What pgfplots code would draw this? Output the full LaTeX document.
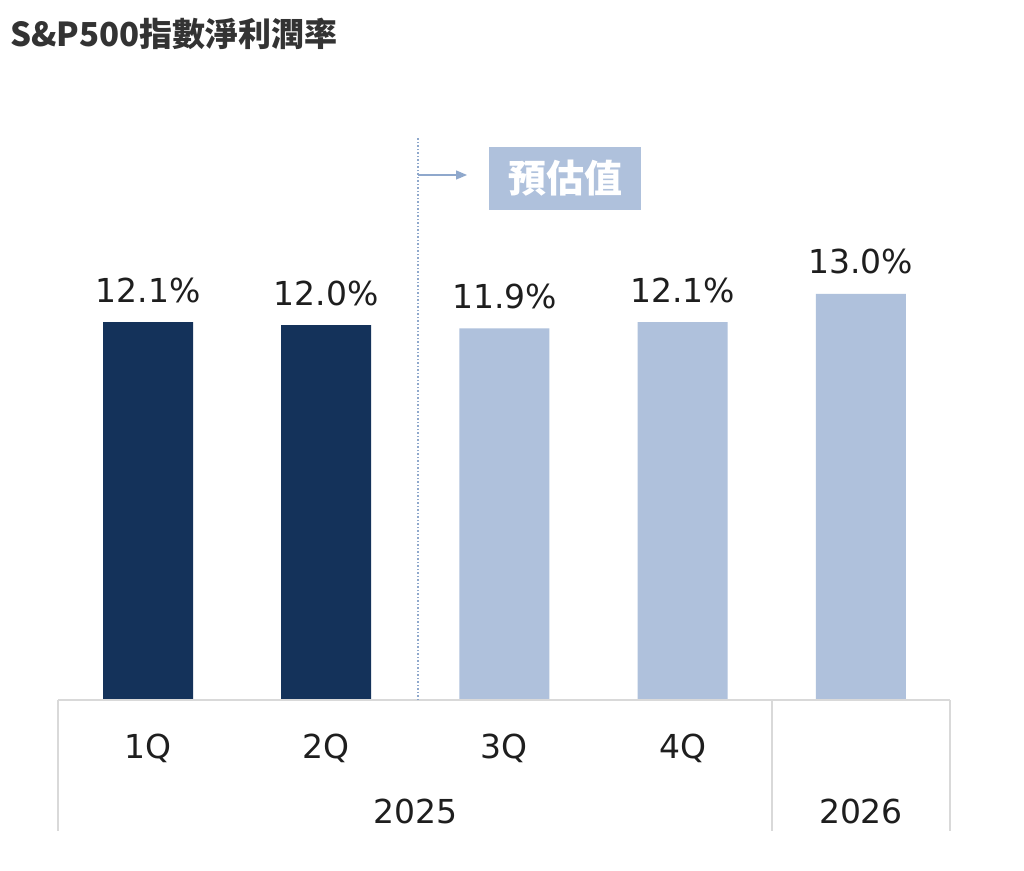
\documentclass[border=0pt]{standalone}
\usepackage{pgfplots}
\pgfplotsset{compat=1.18}
\usepackage{fontspec}
\setmainfont{DejaVu Sans}
\newfontfamily\cjk{Noto Sans CJK TC}
\usetikzlibrary{arrows.meta}
\definecolor{navy}{HTML}{14325A}
\definecolor{lightbar}{HTML}{AFC1DC}
\definecolor{guide}{HTML}{8FA8CC}
\definecolor{gridgray}{HTML}{D9D9D9}
\definecolor{titlegray}{HTML}{333333}
\definecolor{labelblack}{HTML}{1E1E1E}
\begin{document}
\begin{tikzpicture}
  \useasboundingbox (0pt,0pt) rectangle (1024pt,870pt);
  \fill[white] (0pt,0pt) rectangle (1024pt,870pt);
  % title
  \node[anchor=base west, inner sep=0pt, text=titlegray] at (10pt,823pt)
    {\cjk\bfseries\fontsize{33}{37}\selectfont S\&P500指數淨利潤率};
  \begin{axis}[
    at={(58.9pt,170pt)}, anchor=south west,
    scale only axis, width=891.1pt, height=562.3pt,
    xmin=-0.5, xmax=4.5, ymin=0, ymax=18,
    axis line style={draw=none},
    major tick length=0pt,
    ytick=\empty,
    xtick={0,1,2,3,4},
    xticklabels={1Q,2Q,3Q,4Q,},
    xticklabel style={anchor=base, yshift=-58pt, font=\fontsize{33}{36}\selectfont, text=labelblack},
    ybar, bar width=90pt, bar shift=0pt,
    clip=false,
    nodes near coords={\pgfmathprintnumber[fixed,fixed zerofill,precision=1]{\pgfplotspointmeta}\%},
    nodes near coords style={anchor=base, yshift=20pt, font=\fontsize{33}{36}\selectfont, text=labelblack},
    /pgf/number format/assume math mode=true,
  ]
    \addplot[fill=navy, draw=none] coordinates {(0,12.1) (1,12.0)};
    \addplot[fill=lightbar, draw=none] coordinates {(2,11.9) (3,12.1) (4,13.0)};
  \end{axis}
  % table lines
  \draw[gridgray, line width=1.2pt] (58pt,170pt) -- (950pt,170pt);
  \draw[gridgray, line width=1.2pt] (58pt,170pt) -- (58pt,39pt);
  \draw[gridgray, line width=1.2pt] (772pt,170pt) -- (772pt,39pt);
  \draw[gridgray, line width=1.2pt] (950pt,170pt) -- (950pt,39pt);
  % year labels
  \node[anchor=base, inner sep=0pt, text=labelblack, font=\fontsize{33}{36}\selectfont] at (415.5pt,47pt) {2025};
  \node[anchor=base, inner sep=0pt, text=labelblack, font=\fontsize{33}{36}\selectfont] at (861pt,47pt) {2026};
  % forecast marker
  \draw[guide, line width=1.5pt, dash pattern=on 1.5pt off 2pt] (418pt,170pt) -- (418pt,733pt);
  \draw[guide, line width=1.3pt, -{Triangle[length=11pt,width=9pt]}] (418pt,695pt) -- (467pt,695pt);
  \fill[lightbar] (489pt,660pt) rectangle (641pt,723pt);
  \node[text=white, inner sep=0pt] at (565pt,692pt)
    {\cjk\bfseries\fontsize{38}{42}\selectfont 預估值};
\end{tikzpicture}
\end{document}
